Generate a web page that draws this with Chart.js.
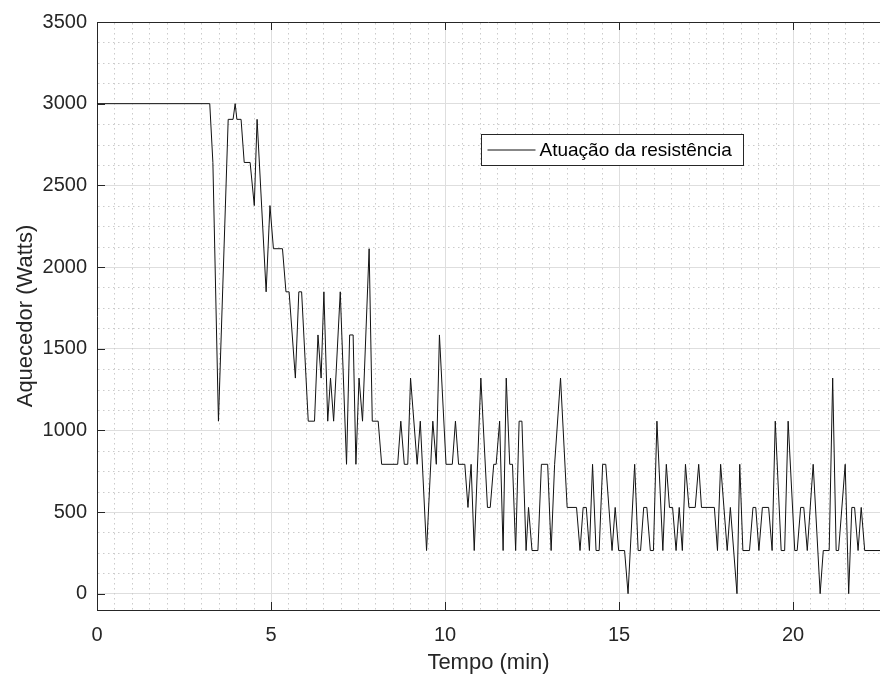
<!DOCTYPE html>
<html>
<head>
<meta charset="utf-8">
<script src="https://cdn.jsdelivr.net/npm/chart.js@4.4.1/dist/chart.umd.min.js"></script>
<style>
  html, body { margin: 0; padding: 0; background: #fff; }
  #wrap { width: 880px; height: 679px; }
</style>
</head>
<body>
<div id="wrap"><canvas id="grafico" width="880" height="679"></canvas></div>
<script>
// tempo (min) dos vertices da curva
const tempo = [
  0, 3.24, 3.33, 3.49, 3.77, 3.91, 3.97, 4.02, 4.14, 4.23, 4.40, 4.52, 4.60, 4.86, 4.97,
  5.07, 5.33, 5.43, 5.52, 5.70, 5.80, 5.88, 6.07, 6.25, 6.35, 6.44, 6.52, 6.63, 6.71, 6.80,
  6.99, 7.17, 7.26, 7.36, 7.44, 7.53, 7.63, 7.82, 7.91, 8.08, 8.18, 8.64, 8.73, 8.83, 8.93,
  9.01, 9.20, 9.29, 9.47, 9.65, 9.75, 9.84, 10.03, 10.21, 10.30, 10.39, 10.57, 10.66, 10.75, 10.84,
  11.03, 11.22, 11.30, 11.40, 11.47, 11.57, 11.67, 11.76, 11.86, 11.94, 12.03, 12.13, 12.21, 12.33, 12.40,
  12.50, 12.67, 12.77, 12.95, 13.05, 13.15, 13.32, 13.51, 13.78, 13.88, 13.97, 14.06, 14.15, 14.24, 14.34,
  14.43, 14.53, 14.62, 14.80, 14.89, 14.99, 15.16, 15.26, 15.45, 15.55, 15.62, 15.71, 15.80, 15.90, 15.99,
  16.09, 16.26, 16.36, 16.45, 16.54, 16.64, 16.73, 16.82, 16.91, 17.01, 17.19, 17.29, 17.37, 17.74, 17.83,
  17.92, 18.11, 18.20, 18.39, 18.47, 18.56, 18.75, 18.85, 18.93, 19.02, 19.12, 19.30, 19.40, 19.49, 19.66,
  19.76, 19.86, 20.05, 20.12, 20.22, 20.31, 20.41, 20.58, 20.78, 20.87, 21.04, 21.14, 21.24, 21.31, 21.50,
  21.60, 21.69, 21.77, 21.87, 21.96, 22.06, 22.5
];

// potencia do aquecedor (W)
const potencia = [
  3000, 3000, 2640, 1056, 2904, 2904, 3000, 2904, 2904, 2640, 2640, 2376, 2904, 1848, 2376,
  2112, 2112, 1848, 1848, 1320, 1848, 1848, 1056, 1056, 1584, 1320, 1848, 1056, 1320, 1056,
  1848, 792, 1584, 1584, 792, 1320, 1056, 2112, 1056, 1056, 792, 792, 1056, 792, 792,
  1320, 792, 1056, 264, 1056, 792, 1584, 792, 792, 1056, 792, 792, 528, 792, 264,
  1320, 528, 528, 792, 792, 1056, 264, 1320, 792, 792, 264, 1056, 1056, 264, 528,
  264, 264, 792, 792, 264, 792, 1320, 528, 528, 264, 528, 528, 264, 792, 264,
  264, 792, 792, 264, 528, 264, 264, 0, 792, 264, 264, 528, 528, 264, 264,
  1056, 264, 792, 528, 528, 264, 528, 264, 792, 528, 528, 792, 528, 528, 264,
  792, 264, 528, 0, 792, 264, 264, 528, 528, 264, 528, 528, 264, 1056, 264,
  264, 1056, 264, 264, 528, 528, 264, 792, 0, 264, 264, 1320, 264, 264, 792,
  0, 528, 528, 264, 528, 264, 264
];

const xTicks = [0, 5, 10, 15, 20];
const yTicks = [0, 500, 1000, 1500, 2000, 2500, 3000, 3500];
const xLim = [0, 22.5];
const yLim = [-100, 3500];
const xMinorStep = 0.5;
const yMinorStep = 125;

const rotuloSerie = 'Atuação da resistência';
const tituloX = 'Tempo (min)';
const tituloY = 'Aquecedor (Watts)';

const corEixo = '#262626';
const fonte = '"Liberation Sans", Arial, sans-serif';

// grade secundaria pontilhada, ticks para dentro, caixa e legenda no estilo MATLAB
const estiloMatlab = {
  id: 'estiloMatlab',
  beforeDatasetsDraw(chart) {
    const { ctx, chartArea: a, scales: { x, y } } = chart;
    ctx.save();
    ctx.strokeStyle = '#cbcbcb';
    ctx.lineWidth = 1;
    ctx.setLineDash([1.5, 3.5]);
    for (let v = xLim[0] + xMinorStep; v < xLim[1]; v += xMinorStep) {
      if (xTicks.includes(v)) continue;
      const px = Math.round(x.getPixelForValue(v)) + 0.5;
      ctx.beginPath();
      ctx.moveTo(px, a.top + 1);
      ctx.lineTo(px, a.bottom);
      ctx.stroke();
    }
    for (let v = 0; v < yLim[1]; v += yMinorStep) {
      if (yTicks.includes(v) || v <= yLim[0]) continue;
      const py = Math.round(y.getPixelForValue(v)) + 0.5;
      ctx.beginPath();
      ctx.moveTo(a.left + 1, py);
      ctx.lineTo(a.right, py);
      ctx.stroke();
    }
    ctx.restore();
  },
  afterDatasetsDraw(chart) {
    const { ctx, chartArea: a, scales: { x, y } } = chart;
    const ds = chart.data.datasets[0];
    ctx.save();
    ctx.strokeStyle = corEixo;
    ctx.lineWidth = 1;
    // borda superior (a direita fica fora do recorte)
    ctx.beginPath();
    ctx.moveTo(a.left, a.top + 0.5);
    ctx.lineTo(a.right, a.top + 0.5);
    ctx.stroke();
    // ticks internos
    const tl = 8;
    xTicks.forEach(v => {
      const px = Math.round(x.getPixelForValue(v)) + 0.5;
      ctx.beginPath();
      ctx.moveTo(px, a.bottom); ctx.lineTo(px, a.bottom - tl);
      ctx.moveTo(px, a.top); ctx.lineTo(px, a.top + tl);
      ctx.stroke();
    });
    yTicks.forEach(v => {
      const py = Math.round(y.getPixelForValue(v)) + 0.5;
      ctx.beginPath();
      ctx.moveTo(a.left, py); ctx.lineTo(a.left + tl, py);
      ctx.stroke();
    });
    // legenda
    const lx = 481.5, ly = 134.5, lw = 262, lh = 31;
    ctx.fillStyle = '#fff';
    ctx.fillRect(lx, ly, lw, lh);
    ctx.strokeRect(lx, ly, lw, lh);
    ctx.strokeStyle = ds.borderColor;
    ctx.beginPath();
    ctx.moveTo(lx + 6, ly + 15.5);
    ctx.lineTo(lx + 54, ly + 15.5);
    ctx.stroke();
    ctx.fillStyle = '#000';
    ctx.font = '19px ' + fonte;
    ctx.textBaseline = 'middle';
    ctx.fillText(ds.label, lx + 58, ly + 16);
    ctx.restore();
  }
};

new Chart(document.getElementById('grafico'), {
  type: 'scatter',
  data: {
    datasets: [{
      label: rotuloSerie,
      data: tempo.map((t, i) => ({ x: t, y: potencia[i] })),
      showLine: true,
      borderColor: '#111',
      borderWidth: 1,
      pointRadius: 0,
      tension: 0
    }]
  },
  options: {
    responsive: false,
    animation: false,
    devicePixelRatio: 1,
    layout: { padding: { top: 20, right: 0, bottom: 0, left: 0 } },
    plugins: {
      legend: { display: false },
      tooltip: { enabled: false }
    },
    scales: {
      x: {
        type: 'linear',
        min: xLim[0],
        max: xLim[1],
        afterBuildTicks: s => { s.ticks = xTicks.map(v => ({ value: v })); },
        afterFit: s => { s.height = 69; },
        grid: { color: '#dedede', drawTicks: false },
        border: { color: corEixo, width: 1 },
        ticks: {
          padding: 13,
          color: corEixo,
          font: { family: fonte, size: 20 },
          maxRotation: 0,
          autoSkip: false,
          callback: v => String(v)
        },
        title: {
          display: true,
          text: tituloX,
          color: corEixo,
          font: { family: fonte, size: 22 },
          padding: { top: 0, bottom: 3 }
        }
      },
      y: {
        type: 'linear',
        min: yLim[0],
        max: yLim[1],
        afterBuildTicks: s => { s.ticks = yTicks.map(v => ({ value: v })); },
        afterFit: s => { s.width = 97; },
        grid: { color: '#dedede', drawTicks: false },
        border: { color: corEixo, width: 1 },
        ticks: {
          padding: 10,
          color: corEixo,
          font: { family: fonte, size: 20 },
          autoSkip: false,
          callback: v => String(v)
        },
        title: {
          display: true,
          text: tituloY,
          color: corEixo,
          font: { family: fonte, size: 22 },
          padding: { top: 13, bottom: 0 }
        }
      }
    }
  },
  plugins: [estiloMatlab]
});
</script>
</body>
</html>
